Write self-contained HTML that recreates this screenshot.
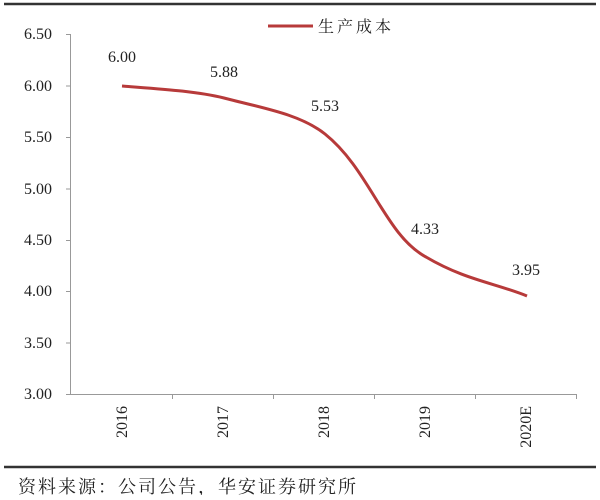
<!DOCTYPE html>
<html><head><meta charset="utf-8"><style>
body{margin:0;background:#fff}
svg text{font-family:"Liberation Serif","Noto Serif CJK SC",serif;fill:#222}
</style></head><body>
<svg width="600" height="495" viewBox="0 0 600 495" xmlns="http://www.w3.org/2000/svg">
<rect width="600" height="495" fill="#fff"/>
<line x1="4" y1="4" x2="596" y2="4" stroke="#333" stroke-width="2.5"/>
<line x1="4" y1="467" x2="596" y2="467" stroke="#333" stroke-width="2.5"/>
<g stroke="#999" stroke-width="1" fill="none">
<line x1="70.5" y1="34" x2="70.5" y2="394"/>
<line x1="70" y1="394.5" x2="577" y2="394.5"/>
<line x1="66" y1="34.5" x2="70" y2="34.5"/><line x1="66" y1="86" x2="70" y2="86"/>
<line x1="66" y1="137.5" x2="70" y2="137.5"/><line x1="66" y1="189" x2="70" y2="189"/>
<line x1="66" y1="240.5" x2="70" y2="240.5"/><line x1="66" y1="291.5" x2="70" y2="291.5"/>
<line x1="66" y1="343" x2="70" y2="343"/><line x1="66" y1="394.5" x2="70" y2="394.5"/>
<line x1="172.5" y1="394" x2="172.5" y2="399"/><line x1="273.5" y1="394" x2="273.5" y2="399"/>
<line x1="374.5" y1="394" x2="374.5" y2="399"/><line x1="475.5" y1="394" x2="475.5" y2="399"/>
<line x1="576.5" y1="394" x2="576.5" y2="399"/>
</g>
<g font-size="16" text-anchor="end">
<text x="52" y="39">6.50</text><text x="52" y="91">6.00</text><text x="52" y="142">5.50</text>
<text x="52" y="194">5.00</text><text x="52" y="245">4.50</text><text x="52" y="296">4.00</text>
<text x="52" y="348">3.50</text><text x="52" y="399">3.00</text>
</g>
<g font-size="16" text-anchor="end">
<text transform="translate(127,406) rotate(-90)">2016</text>
<text transform="translate(228,406) rotate(-90)">2017</text>
<text transform="translate(329,406) rotate(-90)">2018</text>
<text transform="translate(430,406) rotate(-90)">2019</text>
<text transform="translate(531,406) rotate(-90)">2020E</text>
</g>
<path d="M122,86 C160,89 195,91 224,98 C262,108 300,114 325,134 C370,170 385,235 426,257 C465,280 495,283 527,296" fill="none" stroke="#b73a3a" stroke-width="3"/>
<g font-size="16" text-anchor="middle">
<text x="122" y="62">6.00</text><text x="224" y="77">5.88</text><text x="325" y="111">5.53</text>
<text x="425" y="234">4.33</text><text x="526" y="275">3.95</text>
</g>
<line x1="268" y1="26" x2="313" y2="26" stroke="#b73a3a" stroke-width="3"/>
<text x="318" y="32" font-size="16" letter-spacing="3">生产成本</text>
<text x="18" y="493" font-size="18" letter-spacing="2">资料来源：公司公告，华安证券研究所</text>
</svg>
</body></html>
